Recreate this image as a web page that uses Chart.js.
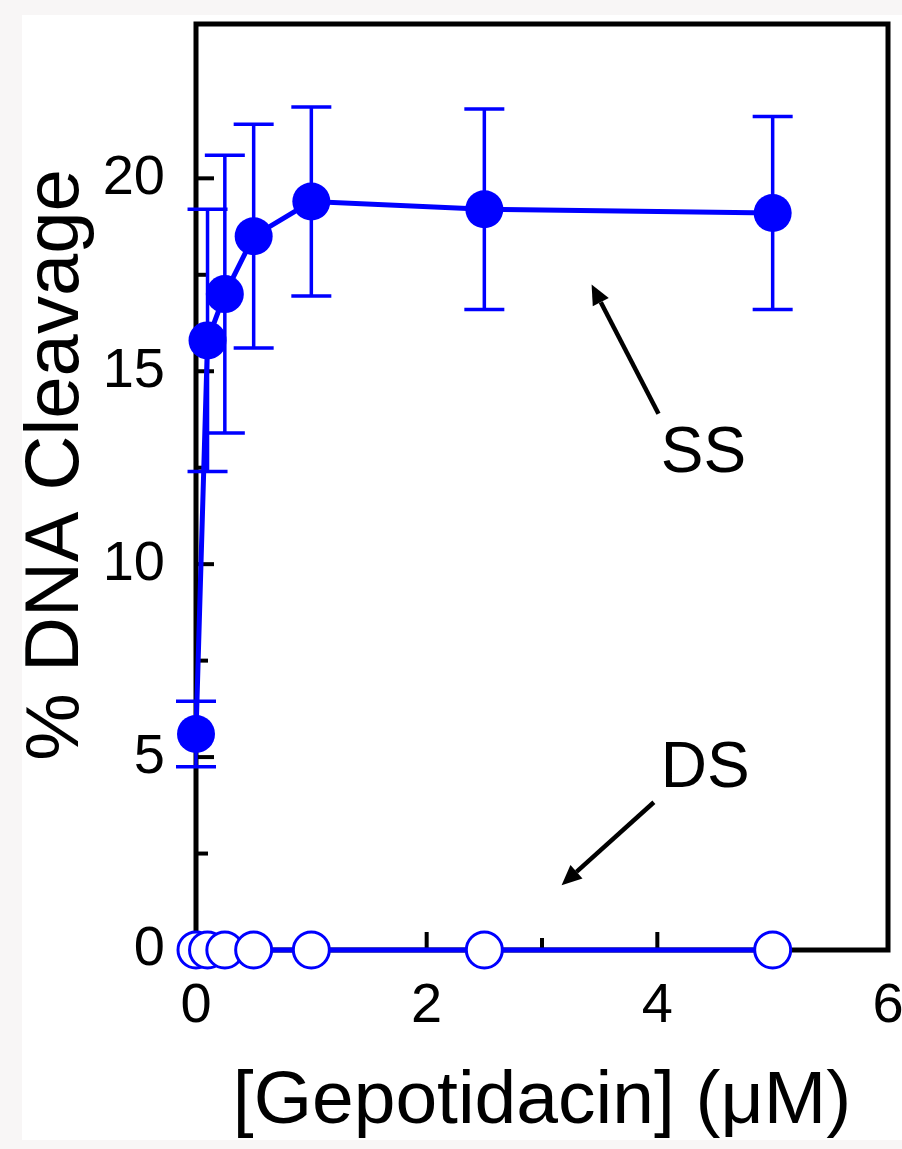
<!DOCTYPE html>
<html>
<head>
<meta charset="utf-8">
<title>Gepotidacin DNA cleavage</title>
<script src="https://cdn.jsdelivr.net/npm/chart.js@4.4.1/dist/chart.umd.min.js"></script>
<style>
    html, body { margin: 0; padding: 0; background: #fff; }
    #wrap { width: 902px; height: 1149px; }
</style>
</head>
<body>
<div id="wrap"><canvas id="cleavageChart" width="902" height="1149"></canvas></div>
<script>
// Gepotidacin concentrations (uM)
const concentrations = [0, 0.1, 0.25, 0.5, 1, 2.5, 5];

// Single-stranded cleavage (%) and error bar half-widths
const ssCleavage = [5.6, 15.8, 17.0, 18.5, 19.4, 19.2, 19.1];
const ssError = [0.85, 3.4, 3.6, 2.9, 2.45, 2.6, 2.5];

// Double-stranded cleavage (%)
const dsCleavage = [0, 0, 0, 0, 0, 0, 0];

// Labelled tick values
const xTickLabels = [0, 2, 4, 6];
const yTickLabels = [0, 5, 10, 15, 20];

const BLUE = '#0000ff';
const FONT = '"Liberation Sans", Arial, sans-serif';

// Arrow annotations, in data units
const notes = [
    { text: 'SS', at: [4.03, 12.4], from: [4.01, 13.9], to: [3.43, 17.25] },
    { text: 'DS', at: [4.03, 4.22], from: [3.97, 3.83], to: [3.17, 1.68] }
];

function toPoints(values) {
    return concentrations.map((x, i) => ({ x: x, y: values[i] }));
}

// Grey scan margin, white page
const pagePlugin = {
    id: 'page',
    beforeDraw(chart) {
        const ctx = chart.ctx;
        ctx.save();
        ctx.fillStyle = '#f8f6f6';
        ctx.fillRect(0, 0, chart.width, chart.height);
        ctx.fillStyle = '#ffffff';
        ctx.fillRect(22, 15, chart.width - 22, 1125);
        ctx.restore();
    }
};

// Box frame and inward tick marks
const framePlugin = {
    id: 'frame',
    beforeDatasetsDraw(chart) {
        const ctx = chart.ctx;
        const area = chart.chartArea;
        const xs = chart.scales.x;
        const ys = chart.scales.y;
        ctx.save();
        ctx.strokeStyle = '#000';
        ctx.lineWidth = 4;
        xs.ticks.forEach(t => {
            const len = xTickLabels.includes(t.value) ? 18 : 12;
            const px = xs.getPixelForValue(t.value);
            ctx.beginPath();
            ctx.moveTo(px, area.bottom);
            ctx.lineTo(px, area.bottom - len);
            ctx.stroke();
        });
        ys.ticks.forEach(t => {
            if (t.value % 2.5 !== 0) return;
            const len = yTickLabels.includes(t.value) ? 18 : 12;
            const py = ys.getPixelForValue(t.value);
            ctx.beginPath();
            ctx.moveTo(area.left, py);
            ctx.lineTo(area.left + len, py);
            ctx.stroke();
        });
        ctx.lineWidth = 5;
        ctx.strokeRect(area.left, area.top, area.right - area.left, area.bottom - area.top);
        ctx.restore();
    }
};

// Error bars for the SS series
const errorBarPlugin = {
    id: 'errorBars',
    afterDatasetsDraw(chart) {
        const ctx = chart.ctx;
        const xs = chart.scales.x;
        const ys = chart.scales.y;
        ctx.save();
        ctx.strokeStyle = BLUE;
        ctx.lineWidth = 3.5;
        concentrations.forEach((c, i) => {
            const px = xs.getPixelForValue(c);
            const top = ys.getPixelForValue(ssCleavage[i] + ssError[i]);
            const bottom = ys.getPixelForValue(ssCleavage[i] - ssError[i]);
            ctx.beginPath();
            ctx.moveTo(px, top);
            ctx.lineTo(px, bottom);
            ctx.moveTo(px - 20, top);
            ctx.lineTo(px + 20, top);
            ctx.moveTo(px - 20, bottom);
            ctx.lineTo(px + 20, bottom);
            ctx.stroke();
        });
        ctx.restore();
    }
};

// Y axis title, arrows and series labels
const notesPlugin = {
    id: 'notes',
    afterDraw(chart) {
        const ctx = chart.ctx;
        const xs = chart.scales.x;
        const ys = chart.scales.y;
        ctx.save();
        ctx.fillStyle = '#000';
        ctx.strokeStyle = '#000';

        ctx.save();
        ctx.translate(78, 465);
        ctx.rotate(-Math.PI / 2);
        ctx.font = '76px ' + FONT;
        ctx.textAlign = 'center';
        ctx.textBaseline = 'alphabetic';
        ctx.fillText('% DNA Cleavage', 0, 0);
        ctx.restore();

        notes.forEach(n => {
            const x1 = xs.getPixelForValue(n.from[0]);
            const y1 = ys.getPixelForValue(n.from[1]);
            const x2 = xs.getPixelForValue(n.to[0]);
            const y2 = ys.getPixelForValue(n.to[1]);
            const ang = Math.atan2(y2 - y1, x2 - x1);
            const headLen = 20;
            const headHalf = 9;
            const bx = x2 - headLen * Math.cos(ang);
            const by = y2 - headLen * Math.sin(ang);
            ctx.lineWidth = 4.5;
            ctx.beginPath();
            ctx.moveTo(x1, y1);
            ctx.lineTo(bx, by);
            ctx.stroke();
            ctx.beginPath();
            ctx.moveTo(x2, y2);
            ctx.lineTo(bx + headHalf * Math.sin(ang), by - headHalf * Math.cos(ang));
            ctx.lineTo(bx - headHalf * Math.sin(ang), by + headHalf * Math.cos(ang));
            ctx.closePath();
            ctx.fill();

            ctx.font = '64px ' + FONT;
            ctx.textAlign = 'left';
            ctx.textBaseline = 'alphabetic';
            ctx.fillText(n.text, xs.getPixelForValue(n.at[0]), ys.getPixelForValue(n.at[1]));
        });
        ctx.restore();
    }
};

function initChart() {
    Chart.defaults.font.family = FONT;
    Chart.defaults.color = '#000';

    const ctx = document.getElementById('cleavageChart').getContext('2d');
    new Chart(ctx, {
        type: 'line',
        data: {
            datasets: [
                {
                    label: 'DS',
                    data: toPoints(dsCleavage),
                    borderColor: BLUE,
                    borderWidth: 5,
                    pointRadius: 18,
                    pointBackgroundColor: '#fff',
                    pointBorderColor: BLUE,
                    pointBorderWidth: 3,
                    tension: 0,
                    fill: false,
                    clip: false
                },
                {
                    label: 'SS',
                    data: toPoints(ssCleavage),
                    borderColor: BLUE,
                    borderWidth: 5,
                    pointRadius: 19,
                    pointBackgroundColor: BLUE,
                    pointBorderColor: BLUE,
                    pointBorderWidth: 0,
                    tension: 0,
                    fill: false,
                    clip: false
                }
            ]
        },
        options: {
            responsive: false,
            animation: false,
            devicePixelRatio: 1,
            layout: {
                autoPadding: false,
                padding: { top: 24, right: 14, left: 0, bottom: 0 }
            },
            plugins: {
                legend: { display: false },
                tooltip: { enabled: false }
            },
            scales: {
                x: {
                    type: 'linear',
                    min: 0,
                    max: 6,
                    afterFit: s => {
                        s.height = 199;
                        s.paddingLeft = 0;
                        s.paddingRight = 0;
                    },
                    grid: { display: false, drawTicks: false },
                    border: { display: false },
                    ticks: {
                        stepSize: 1,
                        autoSkip: false,
                        maxRotation: 0,
                        padding: 23,
                        font: { size: 56 },
                        callback: v => xTickLabels.includes(v) ? String(v) : ''
                    },
                    title: {
                        display: true,
                        text: '[Gepotidacin] (\u03bcM)',
                        font: { size: 75 },
                        padding: { top: 0, bottom: 2 }
                    }
                },
                y: {
                    type: 'linear',
                    min: 0,
                    max: 24,
                    afterFit: s => {
                        s.width = 196;
                        s.paddingTop = 0;
                        s.paddingBottom = 0;
                    },
                    grid: { display: false, drawTicks: false },
                    border: { display: false },
                    ticks: {
                        stepSize: 2.5,
                        autoSkip: false,
                        padding: 31,
                        font: { size: 56 },
                        callback: v => yTickLabels.includes(v) ? String(v) : ''
                    }
                }
            }
        },
        plugins: [pagePlugin, framePlugin, errorBarPlugin, notesPlugin]
    });
}

document.addEventListener('DOMContentLoaded', initChart);
</script>
</body>
</html>
